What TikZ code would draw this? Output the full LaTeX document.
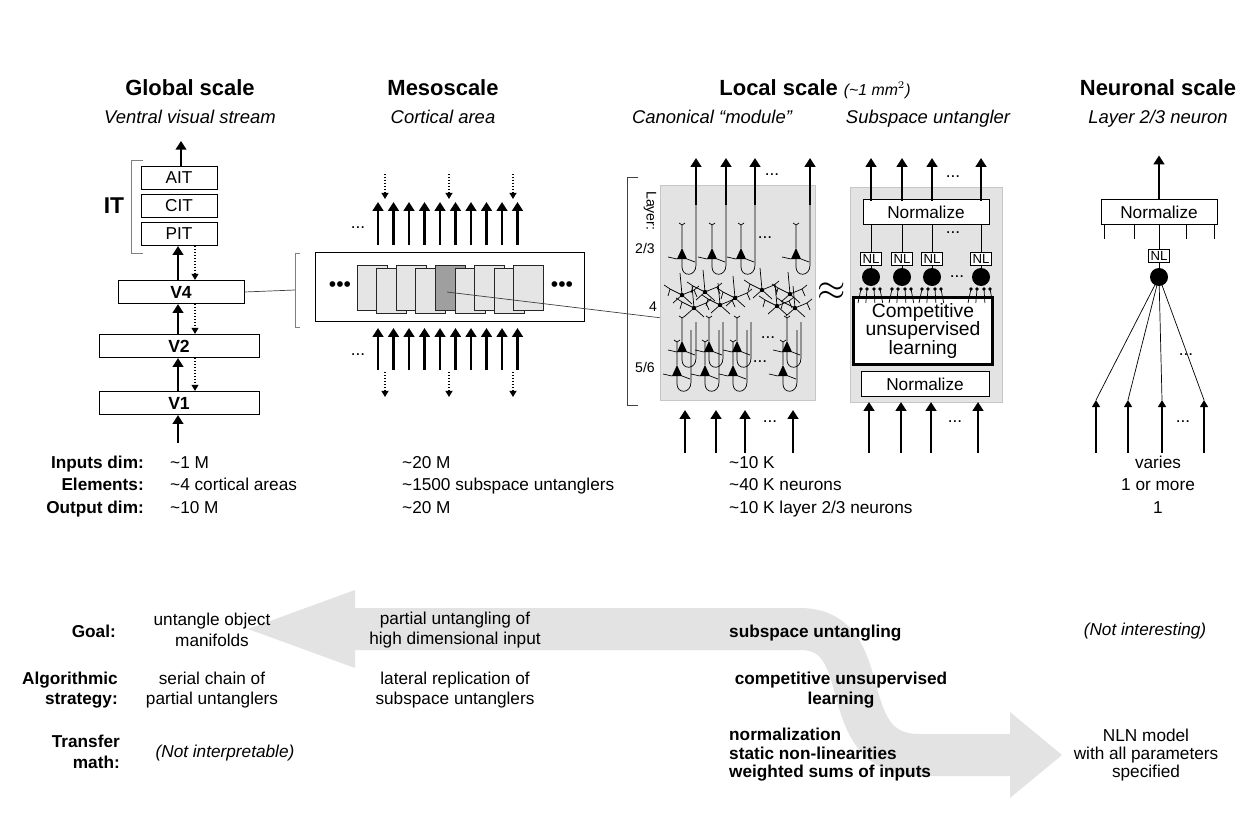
\documentclass[tikz,border=0pt]{standalone}
\usepackage{fontspec}
\setmainfont{Liberation Sans}
\usetikzlibrary{arrows.meta,positioning}

% pyramidal cell: x, y, top of axon
\newcommand\pyr[3]{%
  \fill (#1-5,#2+4) -- (#1+5,#2+4) -- (#1,#2-7) -- cycle;
  \draw[thin] (#1,#2-7) -- (#1,#2-30) (#1-3,#2-32) -- (#1,#2-30) -- (#1+3,#2-32);
  \draw[thin] (#1-5,#2+4) -- (#1-14,#2+2) (#1+5,#2+4) -- (#1+13,#2+7);
  \draw[thin] (#1,#2+4) -- (#1,#2+12) .. controls (#1,#2+22) and (#1+14,#2+22) .. (#1+14,#2+10) -- (#1+14,#3);}
% stellate cell
\newcommand\stel[2]{%
  \fill (#1,#2) circle (2.2);
  \draw[thin] (#1,#2) -- (#1-2,#2-22) (#1,#2) -- (#1-12,#2-6) -- (#1-18,#2-10)
    (#1,#2) -- (#1+12,#2-5) -- (#1+17,#2-9) (#1,#2) -- (#1-9,#2+8) (#1,#2) -- (#1+10,#2+9)
    (#1-12,#2-6) -- (#1-14,#2+1) (#1+12,#2-5) -- (#1+15,#2+2);}
\newcommand\tld{\textasciitilde}

\tikzset{
  every node/.style={font=\fontsize{9.8}{11.8}\selectfont},
  row/.style={text height=1.6ex,text depth=0.4ex},
  title/.style={row,font=\fontsize{12.5}{14}\selectfont\bfseries},
  sub/.style={row,font=\fontsize{10.5}{12}\selectfont\itshape},
  area/.style={draw,fill=white,inner sep=0pt,minimum height=0.47cm},
  up/.style={-{Triangle[length=5pt,width=6pt]},line width=1.6pt},
  upthin/.style={-{Triangle[length=4pt,width=4.5pt]},line width=0.9pt},
  fb/.style={-{Triangle[length=3.5pt,width=4pt]},densely dotted,line width=0.7pt},
  panel/.style={fill=gray!22,draw=gray!45},
  lab/.style={anchor=east,font=\fontsize{9.8}{11.8}\selectfont\bfseries},
  nl/.style={draw,fill=white,inner sep=1pt,font=\fontsize{7.5}{8}\selectfont},
}

\begin{document}
\begin{tikzpicture}[x=0.02cm,y=-0.02cm]
\useasboundingbox (0,0) rectangle (1253,824);

% titles
\node[title] (tglob) at (190,90) {Global scale};
\node[sub] (sglob) at (190,118) {Ventral visual stream};
\node[title] (tmeso) at (443,90) {Mesoscale};
\node[sub] (smeso) at (443,118) {Cortical area};
\node[title] (tloc) at (815,90) {Local scale \fontsize{9}{10}\selectfont\mdseries\itshape(\tld1 mm$^2$)};
\node[sub] (smod) at (712,118) {Canonical “module”};
\node[sub] (sunt) at (928,118) {Subspace untangler};
\node[title] (tneu) at (1158,90) {Neuronal scale};
\node[sub] (sneu) at (1158,118) {Layer 2/3 neuron};

% ventral stream
\node[area,minimum width=1.52cm] (ait) at (179,178) {AIT};
\node[area,minimum width=1.52cm] (cit) at (179,206) {CIT};
\node[area,minimum width=1.52cm] (pit) at (179,234) {PIT};
\node[area,minimum width=2.52cm,font=\bfseries] (v4) at (181,292) {V4};
\node[area,minimum width=3.2cm,font=\bfseries] (v2) at (179,346) {V2};
\node[area,minimum width=3.2cm,font=\bfseries] (v1) at (179,403) {V1};
\draw[gray] (143,160) -- (131,160) -- (131,253) -- (143,253);
\node[font=\fontsize{13}{14}\selectfont\bfseries] (it) at (114,206) {IT};
\draw[up] (ait.north) ++(2,0) coordinate (aitt) -- ++(0,-25);
\draw[up] (178,443) coordinate (v1in) -- (v1in |- v1.south);
\draw[up] (v4.north -| 178,0) -- (pit.south -| 178,0);
\draw[fb] (pit.south -| 195,0) -- (v4.north -| 195,0);
\draw[up] (v2.north -| 178,0) -- (v4.south -| 178,0);
\draw[fb] (v4.south -| 195,0) -- (v2.north -| 195,0);
\draw[up] (v1.north -| 178,0) -- (v2.south -| 178,0);
\draw[fb] (v2.south -| 195,0) -- (v1.north -| 195,0);

% mesoscale
\draw[gray!50!black] (v4.east) -- (295,290);
\draw[gray] (300,253) -- (295,253) -- (295,327) -- (300,327);
\node[draw,fill=white,minimum width=5.38cm,minimum height=1.38cm] (meso) at (450,287) {};
\foreach \i in {0,...,8}{
  \pgfmathsetmacro\xx{357+\i*19.6}
  \pgfmathsetmacro\yy{mod(\i,2)==0 ? 265 : 268}
  \ifnum\i=4 \def\fc{gray!75}\else\def\fc{gray!20}\fi
  \filldraw[fill=\fc,draw=gray!30!black] (\xx,\yy) rectangle ++(30,45);
}
\node[font=\large] (mdl) at (340,287) {\textbullet\textbullet\textbullet};
\node[font=\large] (mdr) at (562,287) {\textbullet\textbullet\textbullet};
\foreach \i in {0,...,9}{
  \draw[up] (378+\i*15.5,245) -- ++(0,-43);
  \draw[up] (378+\i*15.5,370) -- ++(0,-42);
}
\foreach \x in {385,449,513}{
  \draw[fb] (\x,174) -- ++(0,25);
  \draw[fb] (\x,372) -- ++(0,25);
}
\node (mdt) at (358,228) {...};
\node (mdb) at (358,355) {...};

% canonical module
\draw[gray!50!black] (447,292) -- (662,318);
\draw[gray!50!black] (638,177) -- (627,177) -- (627,405) -- (638,405);
\draw[panel] (660,185) rectangle (815,400);
\node[rotate=-90,anchor=west,font=\fontsize{8}{9}\selectfont] (llay) at (650,185) {Layer:};
\node[font=\fontsize{8}{9}\selectfont] (l23) at (645,248) {2/3};
\node[font=\fontsize{8}{9}\selectfont] (l4) at (653,307) {4};
\node[font=\fontsize{8}{9}\selectfont] (l56) at (645,367) {5/6};
\foreach \x in {682,712,741,796} \pyr{\x}{255}{205};
\foreach \x in {682,709,737,787} \pyr{\x}{348}{322};
\foreach \x in {677,705,733,783} \pyr{\x}{372}{330};
\stel{682}{295}\stel{705}{292}\stel{694}{308}\stel{720}{305}\stel{735}{298}
\stel{762}{290}\stel{777}{306}\stel{790}{294}\stel{795}{308}
\node (d23) at (765,238) {...};
\node (d56a) at (768,338) {...};
\node (d56b) at (760,362) {...};
\foreach \x in {696,726,755,810} \draw[up] (\x,205) -- (\x,158);
\node (dmt) at (772,175) {...};
\foreach \x in {685,716,745,793} \draw[up] (\x,453) -- (\x,410);
\node (dmb) at (770,422) {...};
\node[font=\fontsize{20}{20}\selectfont\bfseries] (approx) at (832,292) {$\approx$};

% subspace untangler
\draw[panel] (850,187) rectangle (1002,402);
\node[draw,fill=white,minimum width=2.52cm,minimum height=0.44cm] (normt) at (926,212) {Normalize};
\node[draw,fill=white,minimum width=2.56cm,minimum height=0.44cm] (normb) at (925,384) {Normalize};
\node[draw,fill=white,line width=1.8pt,minimum width=2.78cm,minimum height=1.12cm,align=center,
  font=\fontsize{11}{10.5}\selectfont] (csl) at (923,331) {Competitive\\unsupervised\\learning};
\foreach \x/\n in {871/a,902/b,932/c,981/d}{
  \node[nl] (nl\n) at (\x,259) {NL};
  \fill (\x,277) circle (9) coordinate (c\n);
  \draw (nl\n) -- (\x,268);
  \draw (nl\n) -- (normt.south -| \x,0);
  \draw[up] (\x,201) -- (\x,158);
  \foreach \d in {-10,-4,3,9}{
    \fill (\x+\d,289) circle (1.8);
    \draw[thin] (\x+\d,289) -- (\x+1.3*\d,303);
  }
}
\node (dut) at (953,177) {...};
\node (dum) at (953,233) {...};
\node (duc) at (957,277) {...};
\foreach \x in {869,901,931,978} \draw[up] (\x,453) -- (\x,402);
\node (dub) at (955,422) {...};

% neuronal scale
\node[draw,fill=white,minimum width=2.32cm,minimum height=0.42cm] (normn) at (1159,212) {Normalize};
\foreach \x in {1104,1134,1186,1214} \draw (normn.south -| \x,0) -- ++(0,14);
\node[nl] (nln) at (1159,256) {NL};
\fill (1159,277) circle (9) coordinate (cn);
\draw (normn) -- (nln) -- (cn);
\draw[up] (normn.north) -- ++(0,-44);
\foreach \x in {1096,1128,1162,1204}{
  \draw[thin] (cn) -- (\x,400);
  \draw[upthin] (\x,453) -- (\x,400);
}
\node (dnm) at (1186,355) {...};
\node (dnb) at (1183,422) {...};

% table
\node[lab,row] (rin) at (150,463) {Inputs dim:};
\node[lab,row] (rel) at (150,485) {Elements:};
\node[lab,row] (rout) at (150,508) {Output dim:};
\foreach \r/\a/\b/\c/\d in {463/\tld1 M/\tld20 M/\tld10 K/varies,
  485/\tld4 cortical areas/\tld1500 subspace untanglers/\tld40 K neurons/1 or more,
  508/\tld10 M/\tld20 M/{\tld10 K layer 2/3 neurons}/1}{
  \node[row,anchor=west] at (164,\r) {\a};
  \node[row,anchor=west] at (396,\r) {\b};
  \node[row,anchor=west] at (723,\r) {\c};
  \node[row] at (1158,\r) {\d};
}

% big arrow
\draw[line width=0.84cm,gray!22] (350,629) -- (800,629) .. controls (880,629) and (830,755) .. (920,755) -- (1015,755);
\fill[gray!22] (355,590) -- (248,629) -- (355,668) -- cycle;
\fill[gray!22] (1010,712) -- (1062,755) -- (1010,798) -- cycle;

% bottom rows
\node[lab,row] (goal) at (122,632) {Goal:};
\node[lab,align=right] (algo) at (124,690) {Algorithmic\\strategy:};
\node[lab,align=right] (trans) at (126,752) {Transfer\\math:};
\node[align=center] (g1) at (212,630) {untangle object\\manifolds};
\node[align=center] (g2) at (455,630) {partial untangling of\\high dimensional input};
\node[row,anchor=west,font=\fontsize{9.8}{11.8}\selectfont\bfseries] (g3) at (723,632) {subspace untangling};
\node[row,font=\fontsize{9.8}{11.8}\selectfont\itshape] (g4) at (1145,630) {(Not interesting)};
\node[align=center] (a1) at (212,690) {serial chain of\\partial untanglers};
\node[align=center] (a2) at (455,690) {lateral replication of\\subspace untanglers};
\node[align=center,font=\fontsize{9.8}{11.8}\selectfont\bfseries] (a3) at (841,690) {competitive unsupervised\\learning};
\node[row,font=\fontsize{9.8}{11.8}\selectfont\itshape] (t1) at (225,752) {(Not interpretable)};
\node[anchor=west,align=left,font=\fontsize{9.8}{10.5}\selectfont\bfseries] (t3) at (723,755) {normalization\\static non-linearities\\weighted sums of inputs};
\node[align=center,font=\fontsize{9.8}{10.5}\selectfont] (t4) at (1146,755) {NLN model\\with all parameters\\specified};
\end{tikzpicture}
\end{document}
